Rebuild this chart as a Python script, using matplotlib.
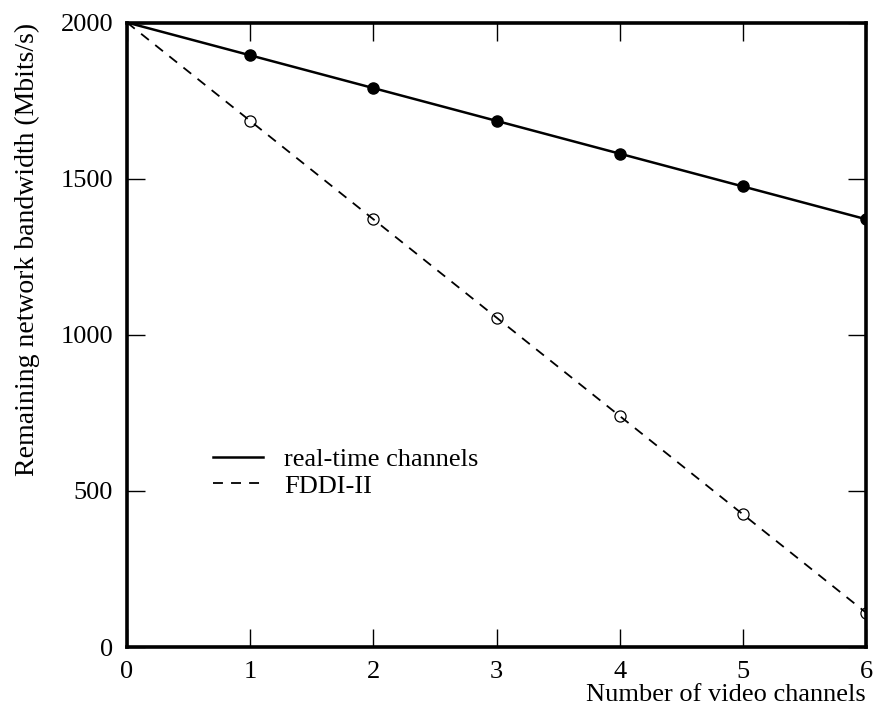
"""Remaining network bandwidth as video channels are added."""

import matplotlib

matplotlib.use("Agg")
import matplotlib.pyplot as plt
from matplotlib.lines import Line2D

channels = [0, 1, 2, 3, 4, 5, 6]
realtime_bw = [2000, 1895, 1790, 1685, 1580, 1475, 1370]
fddi_bw = [2000, 1685, 1370, 1055, 740, 425, 110]

x_ticks = [0, 1, 2, 3, 4, 5, 6]
y_ticks = [0, 500, 1000, 1500, 2000]

plt.rcParams["font.family"] = ["Liberation Serif", "DejaVu Serif"]
plt.rcParams["font.size"] = 19

DASHES = (5.5, 4.5)

fig = plt.figure(figsize=(8.77, 7.26), dpi=100)
ax = fig.add_axes([0.1448, 0.1088, 0.8427, 0.8602])

# lines run from the origin; markers only at the measured channel counts
ax.plot(channels, realtime_bw, color="black", linewidth=1.8)
ax.plot(channels[1:], realtime_bw[1:], linestyle="none", marker="o",
        markersize=8, color="black")
ax.plot(channels, fddi_bw, color="black", linewidth=1.3, dashes=DASHES)
ax.plot(channels[1:], fddi_bw[1:], linestyle="none", marker="o",
        markersize=8, markerfacecolor="none", markeredgecolor="black",
        markeredgewidth=0.9)

ax.set_xlim(0, 6)
ax.set_ylim(0, 2000)
ax.set_xticks(x_ticks)
ax.set_yticks(y_ticks)

for spine in ax.spines.values():
    spine.set_linewidth(2.6)

ax.tick_params(direction="in", length=13, width=1.0, top=True, right=True,
               labelsize=19, pad=10)

ax.set_xlabel("Number of video channels", loc="right")
ax.xaxis.set_label_coords(1.0, -0.06)
ax.set_ylabel("Remaining network bandwidth (Mbits/s)", fontsize=20)
ax.yaxis.set_label_coords(-0.118, 0.636)

handles = [
    Line2D([], [], color="black", linewidth=1.8),
    Line2D([], [], color="black", linewidth=1.3, dashes=DASHES),
]
ax.legend(handles, ["real-time channels", "FDDI-II"], frameon=False,
          fontsize=19, loc="center left", bbox_to_anchor=(0.116, 0.279),
          borderaxespad=0, borderpad=0, handlelength=1.9, handletextpad=0.8,
          labelspacing=0.1)

fig.savefig("out.png", dpi=100)
